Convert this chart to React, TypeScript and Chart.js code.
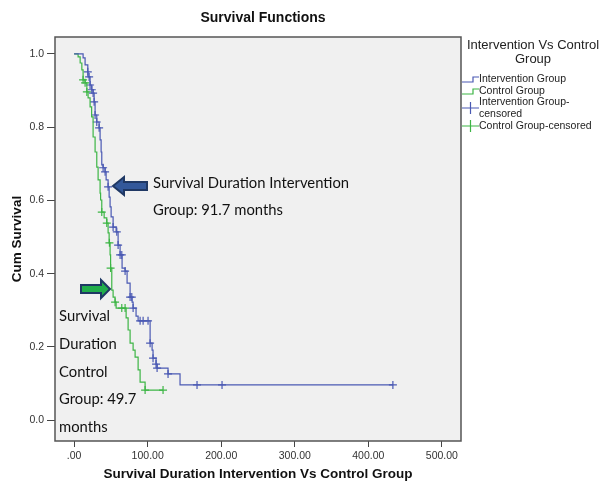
import { useEffect, useRef } from 'react';
import { Chart, registerables } from 'chart.js';

Chart.register(...registerables);

// ---------- data ----------
const chartTitle = 'Survival Functions';
const xAxisTitle = 'Survival Duration Intervention Vs Control Group';
const yAxisTitle = 'Cum Survival';
const xTickValues = [0, 100, 200, 300, 400, 500];
const yTickValues = [0, 0.2, 0.4, 0.6, 0.8, 1.0];

const interventionTime = [0, 9.1, 12.2, 14.9, 18.6, 19.0, 21.7, 24.0, 25.8, 27.2, 28.5, 30.8, 34.0, 35.3, 36.7, 37.6, 39.4, 42.1, 43.5, 46.2, 47.6, 48.9, 50.3, 53.0, 57.1, 59.8, 62.5, 65.2, 69.3, 72.0, 76.1, 78.8, 80.2, 84.2, 87.0, 103.3, 106.0, 107.3, 111.4, 112.8, 127.7, 144.0, 433.4];
const interventionSurv = [1, 1, 0.989, 0.970, 0.951, 0.937, 0.915, 0.902, 0.893, 0.869, 0.833, 0.814, 0.798, 0.765, 0.732, 0.697, 0.689, 0.678, 0.656, 0.637, 0.609, 0.582, 0.555, 0.527, 0.514, 0.478, 0.451, 0.415, 0.407, 0.374, 0.336, 0.322, 0.306, 0.284, 0.271, 0.210, 0.191, 0.169, 0.153, 0.142, 0.126, 0.096, 0.096];
const interventionCensored = [18.6, 20.4, 21.7, 24.0, 25.8, 27.2, 28.5, 30.8, 34.0, 39.4, 42.1, 46.2, 53.0, 58.0, 59.8, 62.5, 64.8, 69.3, 76.1, 78.4, 80.2, 89.7, 93.8, 100.5, 103.3, 107.3, 111.4, 112.8, 127.7, 167.1, 201.1, 433.4];

const controlTime = [0, 5.4, 8.2, 10.5, 12.2, 14.9, 17.3, 19.0, 21.7, 23.8, 25.8, 28.5, 30.8, 32.6, 35.3, 36.0, 37.6, 40.8, 44.4, 46.2, 47.6, 48.9, 49.6, 51.2, 53.0, 55.7, 57.1, 70.7, 73.4, 76.1, 80.2, 82.9, 87.0, 89.7, 96.5, 120.9];
const controlSurv = [1, 0.992, 0.975, 0.956, 0.929, 0.921, 0.896, 0.880, 0.855, 0.828, 0.773, 0.732, 0.691, 0.656, 0.620, 0.601, 0.568, 0.552, 0.538, 0.511, 0.484, 0.451, 0.415, 0.355, 0.336, 0.322, 0.306, 0.279, 0.246, 0.210, 0.191, 0.172, 0.137, 0.104, 0.082, 0.082];
const controlCensored = [12.2, 14.9, 17.3, 37.6, 44.4, 48.0, 49.6, 55.7, 64.8, 69.3, 96.5, 120.9];

const legendTitleLines = ['Intervention Vs Control', 'Group'];
const legendLabels = ['Intervention Group', 'Control Group', 'Intervention Group-|censored', 'Control Group-censored'];
const blueNote = ['Survival Duration Intervention', 'Group: 91.7 months'];
const greenNote = ['Survival', 'Duration', 'Control', 'Group: 49.7', 'months'];

// ---------- styles ----------
const BLUE = '#4a59b3';
const GREEN = '#3db545';
const SANS = '"Liberation Sans", Arial, sans-serif';
const NOTE_FONT = '14.8px Lato, "Open Sans", sans-serif';

function survAt(times: number[], surv: number[], t: number) {
  let s = surv[0];
  for (let i = 0; i < times.length; i++) if (times[i] <= t + 1e-9) s = surv[i];
  return s;
}

function drawArrow(ctx: CanvasRenderingContext2D, tipX: number, tipY: number, headX: number, tailX: number, bodyH: number, headH: number, fill: string, stroke: string) {
  ctx.save();
  ctx.beginPath();
  ctx.moveTo(tipX, tipY);
  ctx.lineTo(headX, tipY - headH);
  ctx.lineTo(headX, tipY - bodyH);
  ctx.lineTo(tailX, tipY - bodyH);
  ctx.lineTo(tailX, tipY + bodyH);
  ctx.lineTo(headX, tipY + bodyH);
  ctx.lineTo(headX, tipY + headH);
  ctx.closePath();
  ctx.fillStyle = fill;
  ctx.fill();
  ctx.lineWidth = 2;
  ctx.strokeStyle = stroke;
  ctx.stroke();
  ctx.restore();
}

const decor = {
  id: 'decor',
  beforeDraw(chart: any) {
    const { ctx, chartArea: a } = chart;
    ctx.save();
    ctx.fillStyle = '#ffffff';
    ctx.fillRect(0, 0, chart.width, chart.height);
    ctx.fillStyle = '#f0f0f0';
    ctx.fillRect(a.left, a.top, a.right - a.left, a.bottom - a.top);
    ctx.restore();
  },
  afterDraw(chart: any) {
    const { ctx, chartArea: a } = chart;
    ctx.save();
    // frame
    ctx.strokeStyle = '#555555';
    ctx.lineWidth = 1.5;
    ctx.strokeRect(a.left, a.top, a.right - a.left, a.bottom - a.top);

    // title
    ctx.fillStyle = '#111';
    ctx.font = `bold 14px ${SANS}`;
    ctx.textAlign = 'center';
    ctx.textBaseline = 'middle';
    ctx.fillText(chartTitle, 263, 18);

    // legend
    ctx.font = `13px ${SANS}`;
    ctx.fillStyle = '#222';
    ctx.fillText(legendTitleLines[0], 533, 45);
    ctx.fillText(legendTitleLines[1], 533, 59);
    ctx.textAlign = 'left';
    ctx.font = `10.5px ${SANS}`;
    const lx = 462;
    const tx = 479;
    const stepIcon = (y: number, color: string) => {
      ctx.beginPath();
      ctx.strokeStyle = color;
      ctx.lineWidth = 1.2;
      ctx.moveTo(lx, y + 3);
      ctx.lineTo(lx + 11, y + 3);
      ctx.lineTo(lx + 11, y - 2);
      ctx.lineTo(lx + 17, y - 2);
      ctx.stroke();
    };
    const crossIcon = (y: number, color: string) => {
      ctx.beginPath();
      ctx.strokeStyle = color;
      ctx.lineWidth = 1.2;
      ctx.moveTo(lx, y);
      ctx.lineTo(lx + 17, y);
      ctx.moveTo(lx + 8.5, y - 6);
      ctx.lineTo(lx + 8.5, y + 6);
      ctx.stroke();
    };
    stepIcon(79, BLUE);
    ctx.fillText(legendLabels[0], tx, 79);
    stepIcon(91, GREEN);
    ctx.fillText(legendLabels[1], tx, 91);
    crossIcon(108, BLUE);
    const l3 = legendLabels[2].split('|');
    ctx.fillText(l3[0], tx, 102);
    ctx.fillText(l3[1], tx, 114);
    crossIcon(126, GREEN);
    ctx.fillText(legendLabels[3], tx, 126);

    // arrows
    drawArrow(ctx, 113, 186, 124, 147, 4, 9, '#33589a', '#1f3864');
    drawArrow(ctx, 110, 289, 101, 81, 4, 9, '#21ad4b', '#1f3864');

    // notes
    ctx.fillStyle = '#111';
    ctx.font = NOTE_FONT;
    ctx.textAlign = 'left';
    ctx.fillText(blueNote[0], 153, 183);
    ctx.fillText(blueNote[1], 153, 210);
    const gy = [316, 344, 372, 399, 427];
    greenNote.forEach((s, i) => ctx.fillText(s, 59, gy[i]));
    ctx.restore();
  },
};

export default function App() {
  const ref = useRef<HTMLCanvasElement | null>(null);
  useEffect(() => {
    if (!ref.current) return;
    const toPts = (t: number[], s: number[]) => t.map((v, i) => ({ x: v, y: s[i] }));
    const chart = new Chart(ref.current, {
      type: 'line',
      data: {
        datasets: [
          {
            label: 'Intervention Group',
            data: toPts(interventionTime, interventionSurv),
            borderColor: BLUE,
            borderWidth: 1.2,
            stepped: 'before',
            pointRadius: 0,
            fill: false,
          },
          {
            label: 'Control Group',
            data: toPts(controlTime, controlSurv),
            borderColor: GREEN,
            borderWidth: 1.2,
            stepped: 'before',
            pointRadius: 0,
            fill: false,
          },
          {
            label: 'Intervention Group-censored',
            data: interventionCensored.map((t) => ({ x: t, y: survAt(interventionTime, interventionSurv, t) })),
            showLine: false,
            pointStyle: 'cross',
            pointRadius: 4,
            pointBorderWidth: 1.2,
            borderColor: BLUE,
            pointBorderColor: BLUE,
          },
          {
            label: 'Control Group-censored',
            data: controlCensored.map((t) => ({ x: t, y: survAt(controlTime, controlSurv, t) })),
            showLine: false,
            pointStyle: 'cross',
            pointRadius: 4,
            pointBorderWidth: 1.2,
            borderColor: GREEN,
            pointBorderColor: GREEN,
          },
        ],
      },
      plugins: [decor],
      options: {
        animation: false,
        responsive: false,
        devicePixelRatio: 1,
        parsing: false as any,
        layout: { padding: { left: 0, top: 37, right: 142, bottom: 0 } },
        plugins: { legend: { display: false }, tooltip: { enabled: false }, title: { display: false } },
        scales: {
          x: {
            type: 'linear',
            min: -26,
            max: 526,
            afterBuildTicks: (s: any) => { s.ticks = xTickValues.map((v) => ({ value: v })); },
            afterFit: (s: any) => { s.height = 44; },
            ticks: {
              callback: (v: any) => (Number(v) === 0 ? '.00' : Number(v).toFixed(2)),
              font: { family: SANS, size: 10.5 },
              color: '#333',
              padding: 3,
              maxRotation: 0,
            },
            grid: { drawOnChartArea: false, drawTicks: true, tickLength: 6, color: '#444' },
            border: { display: false },
            title: { display: true, text: xAxisTitle, font: { family: SANS, size: 13.5, weight: 'bold' }, color: '#111', padding: { top: 0, bottom: 3 } },
          },
          y: {
            type: 'linear',
            min: -0.057,
            max: 1.046,
            afterBuildTicks: (s: any) => { s.ticks = yTickValues.map((v) => ({ value: v })); },
            afterFit: (s: any) => { s.width = 55; },
            ticks: {
              callback: (v: any) => Number(v).toFixed(1),
              font: { family: SANS, size: 10.5 },
              color: '#333',
              padding: 3,
            },
            grid: { drawOnChartArea: false, drawTicks: true, tickLength: 8, color: '#444' },
            border: { display: false },
            title: { display: true, text: yAxisTitle, font: { family: SANS, size: 13.5, weight: 'bold' }, color: '#111', padding: { top: 9, bottom: 0 } },
          },
        },
      },
    });
    return () => chart.destroy();
  }, []);
  return (
    <div style={{ position: 'absolute', left: 0, top: 0, width: 603, height: 485 }}>
      <canvas ref={ref} width={603} height={485} style={{ width: 603, height: 485, display: 'block' }} />
    </div>
  );
}
